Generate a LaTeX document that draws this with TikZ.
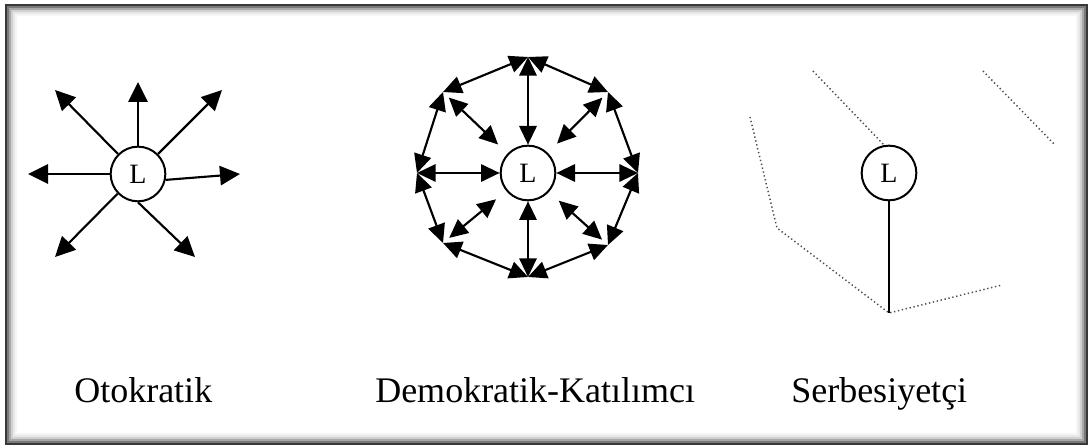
\documentclass[tikz,border=0pt]{standalone}
\usepackage{fontspec}
\setmainfont{Liberation Serif}
\usetikzlibrary{arrows.meta,calc}

\tikzset{
  leader/.style={circle,draw,line width=1.5pt,minimum size=41pt,inner sep=0pt,font=\fontsize{21}{21}\selectfont},
  spoke/.style={line width=1.6pt,-{Triangle[length=15pt,width=14.5pt]}},
  twoway/.style={line width=1.6pt,{Triangle[length=14pt,width=13pt]}-{Triangle[length=14pt,width=13pt]}},
  dots/.style={black!70,line width=1.1pt,dash pattern=on 1pt off 2pt},
  caption/.style={anchor=base west,inner sep=0pt,font=\fontsize{27}{30}\selectfont}
}

\begin{document}
\begin{tikzpicture}[x=0.75pt,y=-0.75pt]
			\fill[white](0,0) rectangle (1092,448);
			\useasboundingbox (0,0) rectangle (1092,448);
			% frame with soft inner shadow
			\foreach \d/\c in {10/4,8/9,6/18,4/34,2/52,0/78}
				\draw[black!\c, line width=1.5pt](6+\d,5+\d) rectangle (1087-\d,444-\d);
			% Otokratik
			\node[leader] (ota) at (138,174) {L};
			\coordinate (ota-n) at (138,82);
			\coordinate (ota-ne) at (222,90);
			\coordinate (ota-e) at (240,174);
			\coordinate (ota-se) at (195,257);
			\coordinate (ota-sw) at (55,257);
			\coordinate (ota-w) at (28,174);
			\coordinate (ota-nw) at (55,90);
			\draw[spoke](ota.90) -- (ota-n);
			\draw[spoke](ota.45) -- (ota-ne);
			\draw[spoke](ota.-12) -- (ota-e);
			\draw[spoke](ota.-90) -- (ota-se);
			\draw[spoke](ota.-136) -- (ota-sw);
			\draw[spoke](ota.180) -- (ota-w);
			\draw[spoke](ota.135) -- (ota-nw);
			% Demokratik-Katilimci
			\node[leader] (dem) at (528,173) {L};
			\coordinate (dem-1) at (528,57);
			\coordinate (dem-2) at (608,92);
			\coordinate (dem-3) at (638,173);
			\coordinate (dem-4) at (608,245);
			\coordinate (dem-5) at (528,277);
			\coordinate (dem-6) at (443,243);
			\coordinate (dem-7) at (417,173);
			\coordinate (dem-8) at (443,92);
			\foreach \i [evaluate=\i as \j using {int(mod(\i,8)+1)}] in {1,...,8}
				\draw[twoway](dem-\i) -- (dem-\j);
			\draw[twoway](dem-1) -- (dem.north);
			\draw[twoway](dem-3) -- (dem.east);
			\draw[twoway](dem-5) -- (dem.south);
			\draw[twoway](dem-7) -- (dem.west);
			\foreach \i in {2,4,6,8}
				\draw[twoway]($(dem-\i)!6pt!(dem.center)$) -- ($(dem.center)!31pt!(dem-\i)$);
			% Serbesiyetci
			\node[leader] (ser) at (889,173) {L};
			\coordinate (ser-root) at (889,313);
			\draw[line width=1.5pt](ser.south) -- (ser-root);
			\draw[dots](750,117) -- (777,228) -- (ser-root) -- (1002,285);
			\draw[dots](813,71) -- (ser.100);
			\draw[dots](983,71) -- (1055,145);
			% captions
			\node[caption] (ota-txt) at (74,403) {Otokratik};
			\node[caption] (dem-txt) at (375,403) {Demokratik-Katılımcı};
			\node[caption] (ser-txt) at (791,403) {Serbesiyetçi};
		\end{tikzpicture}
\end{document}
